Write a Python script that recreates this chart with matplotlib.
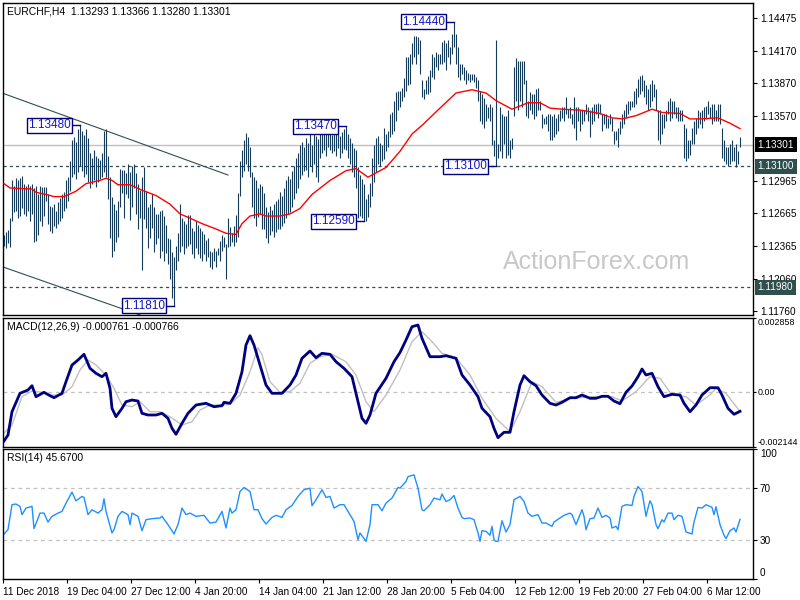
import matplotlib
matplotlib.use('Agg')
import matplotlib.pyplot as plt
import matplotlib.transforms as mtrans

plt.rcParams['font.family'] = ['Liberation Sans', 'DejaVu Sans']

# bar highs / lows in pips above 1.1000 (H4 bars, 11 Dec 2018 .. 8 Mar 2019)
hi = [246, 249, 251, 262, 297, 292, 299, 297, 299, 301, 294, 292, 294, 292, 294, 290, 292, 284, 292, 291,
      291, 291, 284, 273, 272, 275, 269, 277, 281, 284, 286, 297, 300, 315, 334, 337, 333, 345, 348, 343,
      339, 345, 336, 322, 318, 325, 320, 318, 316, 322, 343, 345, 320, 300, 282, 275, 270, 278, 308, 307,
      307, 304, 312, 305, 310, 312, 304, 294, 288, 300, 309, 287, 272, 275, 284, 272, 266, 266, 269, 270,
      264, 256, 244, 243, 231, 226, 236, 248, 275, 262, 259, 257, 265, 265, 253, 250, 259, 256, 253, 250,
      247, 242, 244, 232, 231, 234, 232, 234, 241, 246, 245, 238, 262, 254, 248, 255, 265, 285, 315, 325,
      334, 341, 337, 328, 305, 300, 297, 290, 294, 292, 285, 272, 268, 273, 270, 275, 278, 280, 286, 283,
      290, 297, 301, 298, 306, 310, 318, 322, 330, 333, 328, 336, 332, 340, 330, 343, 338, 335, 340, 346,
      340, 344, 347, 341, 339, 343, 341, 344, 338, 342, 345, 347, 340, 336, 332, 327, 325, 309, 302, 298,
      294, 280, 284, 295, 318, 330, 336, 338, 332, 330, 346, 340, 343, 359, 360, 371, 379, 380, 380, 383,
      392, 411, 411, 414, 424, 431, 431, 430, 427, 390, 382, 390, 394, 399, 414, 411, 416, 414, 414, 425,
      427, 424, 427, 421, 433, 444, 433, 421, 405, 405, 402, 399, 397, 396, 396, 396, 393, 390, 380, 377,
      373, 368, 365, 368, 365, 334, 427, 331, 365, 359, 357, 357, 362, 334, 336, 402, 410, 408, 408, 408,
      408, 390, 371, 379, 377, 377, 382, 383, 371, 359, 355, 357, 359, 359, 357, 359, 355, 359, 362, 365,
      365, 374, 363, 365, 359, 374, 365, 365, 362, 362, 362, 368, 365, 362, 365, 368, 368, 369, 368, 359,
      359, 359, 355, 359, 355, 343, 343, 346, 352, 359, 362, 368, 371, 371, 371, 380, 383, 391, 394, 395,
      390, 385, 382, 386, 390, 386, 382, 362, 362, 359, 359, 362, 371, 373, 371, 371, 365, 365, 362, 362,
      349, 346, 334, 334, 346, 352, 355, 362, 360, 362, 365, 366, 371, 365, 368, 368, 362, 368, 368, 346,
      334, 328, 328, 331, 334, 328, 331, 324, 337]
lo = [236, 234, 239, 235, 259, 268, 269, 262, 264, 271, 266, 264, 269, 259, 266, 240, 241, 246, 259, 255,
      264, 278, 257, 250, 248, 255, 253, 257, 259, 262, 269, 271, 278, 287, 300, 303, 298, 305, 310, 306,
      300, 303, 296, 290, 294, 297, 291, 296, 298, 300, 305, 300, 280, 244, 226, 232, 240, 245, 272, 285,
      262, 284, 281, 260, 272, 290, 266, 252, 262, 214, 261, 253, 234, 244, 253, 231, 238, 244, 225, 232,
      222, 230, 220, 206, 188, 181, 214, 222, 231, 236, 229, 234, 236, 238, 229, 225, 234, 229, 225, 222,
      229, 222, 226, 217, 215, 222, 217, 228, 222, 232, 235, 206, 235, 236, 240, 236, 240, 245, 283, 300,
      306, 312, 306, 300, 272, 262, 255, 263, 266, 252, 252, 244, 239, 246, 250, 245, 249, 252, 252, 255,
      258, 262, 266, 268, 272, 280, 285, 290, 298, 302, 306, 307, 300, 310, 305, 312, 300, 296, 318, 322,
      325, 320, 328, 325, 322, 324, 320, 327, 318, 322, 326, 325, 318, 312, 305, 300, 290, 262, 264, 262,
      259, 259, 263, 272, 283, 296, 305, 312, 310, 315, 317, 324, 328, 337, 340, 343, 352, 362, 365, 371,
      374, 380, 385, 386, 405, 411, 405, 414, 396, 374, 372, 377, 377, 379, 393, 391, 402, 399, 405, 405,
      407, 399, 411, 405, 414, 421, 405, 393, 390, 396, 390, 386, 390, 388, 390, 388, 383, 371, 352, 349,
      346, 352, 355, 352, 330, 320, 310, 318, 324, 318, 331, 318, 321, 318, 326, 357, 371, 362, 371, 365,
      386, 357, 355, 362, 359, 354, 357, 362, 362, 346, 349, 349, 343, 334, 334, 337, 340, 343, 352, 355,
      352, 359, 355, 355, 349, 346, 334, 352, 343, 349, 352, 359, 352, 337, 349, 352, 359, 355, 359, 343,
      349, 346, 346, 349, 343, 331, 334, 328, 340, 346, 349, 355, 359, 362, 365, 365, 368, 374, 377, 380,
      374, 368, 362, 365, 371, 374, 362, 334, 331, 340, 346, 352, 359, 352, 355, 359, 355, 352, 352, 352,
      318, 315, 318, 321, 331, 331, 340, 346, 349, 346, 352, 354, 359, 355, 349, 352, 352, 352, 349, 318,
      315, 312, 310, 312, 315, 315, 309, 312, 328]

# red moving average (bar index, pips)
ma_i = [0, 3, 14, 16, 21, 25, 30, 36, 41, 48, 51, 54, 57, 63, 69, 76, 83, 88, 93, 99, 106, 111, 116, 119,
        123, 128, 131, 138, 143, 148, 154, 163, 171, 176, 182, 188, 191, 198, 204, 209, 218, 226, 234, 241,
        246, 254, 258, 262, 268, 273, 279, 289, 298, 304, 309, 316, 324, 329, 338, 343, 348, 357, 363, 368]
ma_v = [294, 290, 289, 286, 284, 282, 282, 287, 294, 297, 299, 297, 293, 293, 288, 283, 275, 266, 262, 257,
        252, 248, 247, 257, 264, 266, 264, 264, 266, 271, 284, 297, 306, 308, 300, 306, 309, 324, 340, 348,
        364, 378, 381, 378, 371, 363, 366, 369, 369, 364, 363, 362, 359, 355, 354, 357, 363, 360, 359, 354,
        354, 355, 350, 345]

# MACD main (x1e-6)
macd_i = [0, 2, 4, 8, 12, 14, 16, 20, 23, 25, 29, 31, 34, 37, 40, 43, 46, 49, 51, 53, 54, 56, 59, 61, 64,
          67, 69, 72, 76, 79, 82, 84, 86, 89, 92, 96, 101, 105, 109, 110, 113, 116, 119, 121, 123, 125, 128,
          131, 134, 139, 143, 146, 149, 153, 156, 159, 163, 166, 170, 174, 177, 179, 181, 183, 186, 191, 195,
          198, 201, 204, 207, 209, 213, 218, 221, 226, 229, 233, 237, 239, 243, 245, 247, 250, 253, 255, 258,
          260, 263, 266, 269, 273, 276, 279, 283, 286, 289, 293, 296, 299, 302, 305, 308, 311, 314, 317, 319,
          321, 324, 327, 330, 334, 338, 340, 343, 346, 349, 353, 357, 359, 362, 365, 368]
macd_v = [-1911, -1680, -775, -62, 66, 233, -194, -23, -155, -233, -62, 388, 1035, 1229, 1450, 907, 713,
          582, 713, 132, -644, -969, -644, -388, -322, -361, -838, -903, -903, -838, -1031, -1419, -1652,
          -1225, -838, -516, -450, -582, -543, -411, -450, -62, 775, 1811, 2171, 1811, 1035, 260, -62, -62,
          260, 648, 1295, 1578, 1318, 1489, 1450, 1163, 907, 582, -388, -1031, -1225, -903, -62, 519, 1163,
          1520, 2004, 2520, 2586, 2070, 1357, 1357, 1396, 1295, 648, 260, -194, -644, -969, -1419, -1783,
          -1574, -1574, -775, 260, 620, 388, 233, -128, -450, -516, -411, -233, -233, -128, -256, -256,
          -178, -178, -361, -465, -23, 221, 582, 880, 648, 713, 194, -194, -101, -128, -450, -775, -516,
          -128, 155, 155, -128, -644, -876, -761]

# MACD signal (x1e-6)
sig_i = [0, 4, 9, 14, 19, 24, 29, 34, 38, 42, 46, 51, 55, 59, 64, 68, 73, 78, 83, 89, 94, 98, 103, 108,
         113, 118, 123, 127, 129, 133, 138, 143, 148, 153, 158, 164, 171, 176, 181, 185, 191, 198, 204, 209,
         214, 219, 226, 233, 239, 246, 253, 258, 264, 269, 276, 284, 294, 304, 309, 316, 323, 328, 334, 341,
         346, 353, 356, 361, 368]
sig_v = [-1600, -1290, -194, 27, -23, -128, -128, 194, 841, 1229, 1035, 648, 132, -516, -582, -388, -775,
         -775, -969, -1290, -1163, -710, -516, -516, -489, -128, 775, 1706, 1423, 388, -23, 0, 326, 1101,
         1357, 1450, 1163, 648, -388, -775, -128, 840, 1939, 2326, 1939, 1489, 1318, 648, -256, -1031, -1551,
         -775, 388, 194, -411, -256, -194, -194, -361, 0, 582, 519, -128, -194, -516, -128, 132, -62, -766]

# RSI(14)
rsi_i = [0, 2, 4, 6, 8, 9, 11, 14, 15, 18, 20, 22, 24, 27, 29, 31, 34, 36, 39, 40, 42, 44, 47, 49, 50, 51,
         54, 55, 57, 59, 62, 63, 64, 67, 69, 71, 74, 78, 79, 82, 85, 87, 89, 91, 93, 96, 100, 103, 106, 109,
         111, 113, 114, 116, 118, 120, 123, 125, 127, 129, 131, 134, 136, 139, 141, 144, 147, 150, 153, 154,
         156, 159, 161, 163, 165, 168, 170, 173, 175, 177, 178, 181, 183, 184, 187, 189, 191, 194, 197, 198,
         201, 202, 205, 207, 209, 210, 213, 215, 218, 219, 221, 223, 225, 227, 229, 230, 233, 235, 237, 238,
         239, 241, 243, 244, 245, 246, 247, 249, 251, 253, 255, 258, 260, 262, 264, 267, 269, 271, 274, 275,
         278, 280, 283, 284, 286, 288, 289, 290, 291, 293, 295, 297, 299, 301, 303, 304, 306, 307, 309, 311,
         314, 315, 317, 319, 321, 322, 323, 324, 326, 327, 329, 330, 332, 334, 335, 337, 339, 341, 344, 345,
         347, 349, 351, 354, 355, 356, 358, 360, 361, 363, 365, 366, 368]
rsi_v = [34.4, 37.7, 57, 57.5, 55.7, 49.3, 54.4, 55.7, 38.5, 50.5, 50.5, 43.6, 48, 50.5, 51.8, 58.2, 66.7,
         60, 63.4, 62.6, 49.3, 53.1, 50.5, 53.1, 61.6, 51.8, 35.2, 37.7, 48, 51.8, 49.3, 41.6, 50.5, 48,
         36.9, 45.4, 46.2, 46.7, 48, 41.6, 34.4, 41.6, 54.4, 49.3, 50.5, 48, 48.8, 42.8, 43.6, 51.8, 39,
         54.4, 50.5, 53.1, 67.2, 70.3, 67.2, 53.1, 53.1, 46.2, 42.1, 47.2, 48.8, 47.2, 53.1, 56.4, 63.4,
         68.5, 69.8, 56.2, 60.8, 68.5, 62.6, 63.4, 54.4, 57, 57, 49.3, 44.1, 30, 35.2, 28.7, 41.6, 57, 57,
         52.3, 58.2, 62.1, 70.3, 69.8, 74.9, 78.7, 80, 69.8, 53.1, 52.3, 57, 62.1, 60.8, 65.2, 59.5, 60.8,
         64.1, 54.4, 47.2, 46.2, 46.7, 45.4, 35.2, 28.7, 36.9, 36.4, 33.4, 40.3, 30, 28.7, 28.7, 44.6, 35.9,
         41.6, 60.8, 63.4, 59.5, 50.5, 48, 49.3, 42.8, 42.8, 40.3, 43.6, 46.7, 48.8, 50.5, 49.3, 41.6, 49.3,
         53.1, 48, 37.7, 46.2, 46.7, 54.4, 47.2, 48.8, 46.7, 39, 40.3, 37.7, 55.7, 57, 56.4, 63.4, 71, 67.2,
         48, 54.4, 60, 57, 41.6, 38.5, 45.4, 43.6, 50.5, 50.5, 45.4, 48.8, 48, 35.9, 34.4, 43.6, 54.9, 54.4,
         57, 54.9, 49.3, 55.4, 41.6, 33.4, 30.8, 36.9, 39, 35.9, 45.67]

price_ticks = [1.14475, 1.14170, 1.13870, 1.13570, 1.12965, 1.12665, 1.12365, 1.12060, 1.11760]
date_labels = ['11 Dec 2018', '19 Dec 04:00', '27 Dec 12:00', '4 Jan 20:00', '14 Jan 04:00', '21 Jan 12:00',
               '28 Jan 20:00', '5 Feb 04:00', '12 Feb 12:00', '19 Feb 20:00', '27 Feb 04:00', '6 Mar 12:00']

# swing labels: (bar index, price)
swings = [(38, 1.13480), (171, 1.13470), (225, 1.14440), (246, 1.13100), (180, 1.12590), (85, 1.11810)]


def px(v):
    return 1.1 + v / 10000.0


W, H = 800, 600


def rect(x0, y0, x1, y1):
    return [x0 / W, 1 - y1 / H, (x1 - x0) / W, (y1 - y0) / H]


fig = plt.figure(figsize=(8, 6), dpi=100)
ax1 = fig.add_axes(rect(2.5, 3, 753, 315))
ax2 = fig.add_axes(rect(2.5, 318, 753, 447))
ax3 = fig.add_axes(rect(2.5, 449, 753, 578.5))

bar_c = '#143c5a'
slate = '#2f4f4f'
idx = list(range(len(hi)))
fs = 7.2

# ---- price panel
ax1.vlines(idx, [px(v) for v in lo], [px(v) for v in hi], colors=bar_c, lw=0.8, zorder=3)
ax1.plot(ma_i, [px(v) for v in ma_v], color='red', lw=1.0, zorder=4)
ax1.plot([-0.65, 112], [px(377.8), px(302)], color=slate, lw=0.8, zorder=2)
ax1.plot([-0.65, 72], [px(216.9), px(169.7)], color=slate, lw=0.8, zorder=2)
ax1.axhline(1.13301, color='#c0c0c0', lw=1.0, zorder=1)
ax1.axhline(1.13100, color=slate, lw=0.9, ls=(0, (2.5, 2.5)), zorder=1)
ax1.axhline(1.11980, color=slate, lw=0.9, ls=(0, (2.5, 2.5)), zorder=1)

for bi, p in swings:
    xe = bi - 4.5
    ax1.plot([xe, bi], [p, p], color='#000080', lw=1.0, zorder=5)
    ax1.text(xe, p, '%.5f' % p, ha='right', va='center', fontsize=8.5, color='#1515c8', zorder=6,
             bbox=dict(boxstyle='square,pad=0.12', fc='white', ec='#000080', lw=1.0))

ax1.set_xlim(-0.75, 374.5)
ax1.set_ylim(px(172.3), px(461.4))
ax1.set_yticks(price_ticks)
ax1.set_yticklabels(['%.5f' % t for t in price_ticks])
ax1.set_xticks([])

trans = mtrans.blended_transform_factory(ax1.transAxes, ax1.transData)
for p, fc in [(1.13301, 'black'), (1.13100, slate), (1.11980, slate)]:
    ax1.text(1.006, p, '%.5f' % p, transform=trans, ha='left', va='center', fontsize=fs, color='white',
             zorder=10, clip_on=False, bbox=dict(boxstyle='square,pad=0.25', fc=fc, ec='none'))

fig.text(597 / W, 1 - 262 / H, 'ActionForex.com', ha='center', va='center', fontsize=18, color='#c8c8c8',
         zorder=0)

# ---- MACD panel
ax2.axhline(0, color='#c0c0c0', lw=0.9, ls=(0, (3, 3)))
ax2.plot(sig_i, [v / 1e6 for v in sig_v], color='#c0c0c0', lw=1.0)
ax2.plot(macd_i, [v / 1e6 for v in macd_v], color='#000080', lw=2.0)
ax2.set_xlim(-0.75, 374.5)
ax2.set_ylim(-0.002144, 0.002858)
ax2.set_yticks([0.002858, 0.0, -0.002144])
ax2.set_yticklabels(['0.002858', '0.00', '-0.002144'])
ax2.set_xticks([])

# ---- RSI panel
ax3.axhline(70, color='#c0c0c0', lw=0.9, ls=(0, (3, 3)))
ax3.axhline(30, color='#c0c0c0', lw=0.9, ls=(0, (3, 3)))
ax3.plot(rsi_i, rsi_v, color='#1e90ff', lw=1.0)
ax3.set_xlim(-0.75, 374.5)
ax3.set_ylim(0, 100)
ax3.set_yticks([100, 70, 30, 0])
ax3.set_yticklabels(['100', '70', '30', '0'])
ax3.set_xticks([32 * k - 0.5 for k in range(len(date_labels))])
ax3.set_xticklabels(date_labels, ha='left')

for ax in (ax1, ax2, ax3):
    ax.yaxis.tick_right()
    ax.tick_params(axis='y', labelsize=fs, length=3, pad=2, width=0.8)
    ax.tick_params(axis='x', labelsize=fs, length=3, pad=3, width=0.8)
    for s in ax.spines.values():
        s.set_color('black')
        s.set_linewidth(1.0)
ax2.tick_params(axis='y', labelsize=6.4, length=2, pad=1.5)

labs = ax2.get_yticklabels()
labs[0].set_va('top')
labs[-1].set_va('bottom')
labs = ax3.get_yticklabels()
labs[0].set_va('top')
labs[-1].set_va('bottom')

fig.text(7 / W, 1 - 11 / H, 'EURCHF,H4  1.13293 1.13366 1.13280 1.13301', fontsize=7.5, va='center')
fig.text(7 / W, 1 - 327 / H, 'MACD(12,26,9) -0.000761 -0.000766', fontsize=7.5, va='center')
fig.text(7 / W, 1 - 458 / H, 'RSI(14) 45.6700', fontsize=7.5, va='center')

fig.savefig('out.png', dpi=100)
